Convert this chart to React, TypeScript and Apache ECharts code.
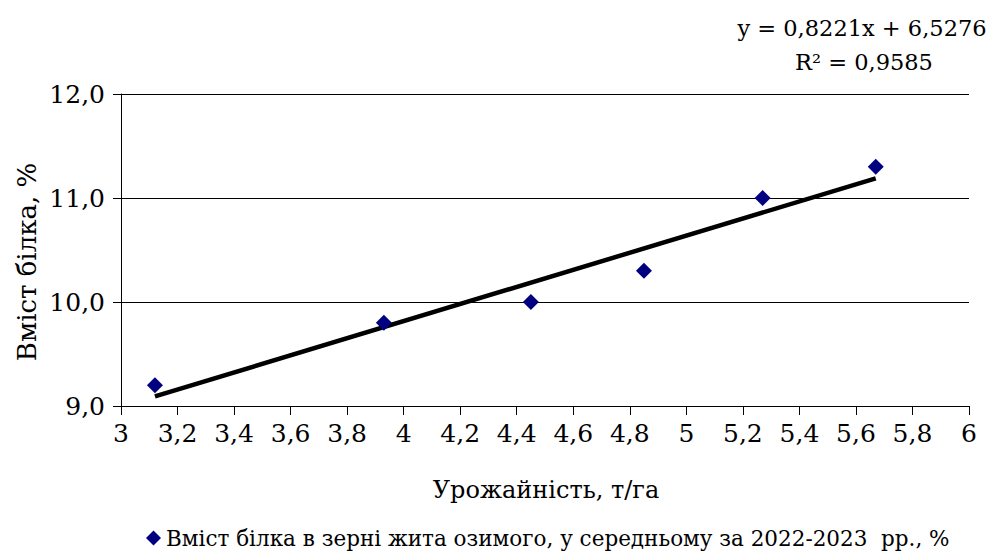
import React, { useEffect, useRef } from "react";
import * as echarts from "echarts";

// Yield (t/ha) vs. protein content (%) for winter rye
const yieldValues = [3.12, 3.93, 4.45, 4.85, 5.27, 5.67];
const proteinValues = [9.2, 9.8, 10.0, 10.3, 11.0, 11.3];

// Linear trend reported for the series
const trendSlope = 0.8221;
const trendIntercept = 6.5276;
const trendR2 = 0.9585;

const seriesName = "Вміст білка в зерні жита озимого, у середньому за 2022-2023  рр., %";
const xAxisTitle = "Урожайність, т/га";
const yAxisTitle = "Вміст білка, %";

const FONT = "DejaVu Serif";

const fmtComma = (v: number, digits?: number) => {
  const s = digits === undefined ? String(Math.round(v * 100) / 100) : v.toFixed(digits);
  return s.replace(".", ",");
};

const textStyle = (text: string, size: number) => ({
  text,
  fontFamily: FONT,
  fontSize: size,
  fill: "#000",
  align: "center",
  verticalAlign: "middle",
});

export default function App() {
  const ref = useRef<HTMLDivElement>(null);

  useEffect(() => {
    if (!ref.current) return;
    const chart = echarts.init(ref.current, null, { renderer: "svg" });

    const xMin = Math.min(...yieldValues);
    const xMax = Math.max(...yieldValues);
    const trendData = [
      [xMin, trendSlope * xMin + trendIntercept],
      [xMax, trendSlope * xMax + trendIntercept],
    ];

    chart.setOption({
      animation: false,
      backgroundColor: "#ffffff",
      textStyle: { fontFamily: FONT },
      grid: { left: 121, right: 31, top: 94, bottom: 152, containLabel: false },
      xAxis: {
        type: "value",
        min: 3,
        max: 6,
        interval: 0.2,
        axisLine: { show: true, lineStyle: { color: "#000", width: 1 } },
        axisTick: { show: true, length: 9, lineStyle: { color: "#000" } },
        splitLine: { show: false },
        axisLabel: {
          color: "#000",
          fontFamily: FONT,
          fontSize: 25,
          margin: 15,
          formatter: (v: number) => fmtComma(v),
        },
      },
      yAxis: {
        type: "value",
        min: 9,
        max: 12,
        interval: 1,
        axisLine: { show: true, lineStyle: { color: "#000", width: 1 } },
        axisTick: { show: true, length: 8, lineStyle: { color: "#000" } },
        splitLine: { show: true, lineStyle: { color: "#000", width: 1 } },
        axisLabel: {
          color: "#000",
          fontFamily: FONT,
          fontSize: 25,
          margin: 16,
          formatter: (v: number) => fmtComma(v, 1),
        },
      },
      legend: {
        data: [seriesName],
        bottom: 4,
        left: 141,
        itemWidth: 15,
        itemHeight: 15,
        itemGap: 10,
        formatter: (name: string) => `{t|${name}}`,
        textStyle: {
          color: "#000",
          fontFamily: FONT,
          fontSize: 21.5,
          rich: { t: { fontFamily: FONT, fontSize: 21.5, color: "#000" } },
        },
      },
      graphic: [
        {
          type: "text",
          x: 862,
          y: 28,
          style: textStyle(
            `y = ${fmtComma(trendSlope, 4)}x + ${fmtComma(trendIntercept, 4)}`,
            22.5
          ),
        },
        {
          type: "text",
          x: 864,
          y: 62,
          style: textStyle(`R² = ${fmtComma(trendR2, 4)}`, 22.5),
        },
        {
          type: "text",
          x: 546,
          y: 490,
          style: textStyle(xAxisTitle, 24),
        },
        {
          type: "text",
          x: 27,
          y: 262,
          rotation: Math.PI / 2,
          style: textStyle(yAxisTitle, 26),
        },
      ],
      series: [
        {
          type: "line",
          name: "trend",
          data: trendData,
          symbol: "none",
          lineStyle: { color: "#000", width: 4.5 },
          z: 2,
          silent: true,
        },
        {
          type: "scatter",
          name: seriesName,
          data: yieldValues.map((x, i) => [x, proteinValues[i]]),
          symbol: "diamond",
          symbolSize: 16,
          itemStyle: { color: "#000080", opacity: 1 },
          z: 3,
        },
      ],
    });

    return () => chart.dispose();
  }, []);

  return (
    <div
      ref={ref}
      style={{ position: "fixed", left: 0, top: 0, width: 1000, height: 558, background: "#fff" }}
    />
  );
}
